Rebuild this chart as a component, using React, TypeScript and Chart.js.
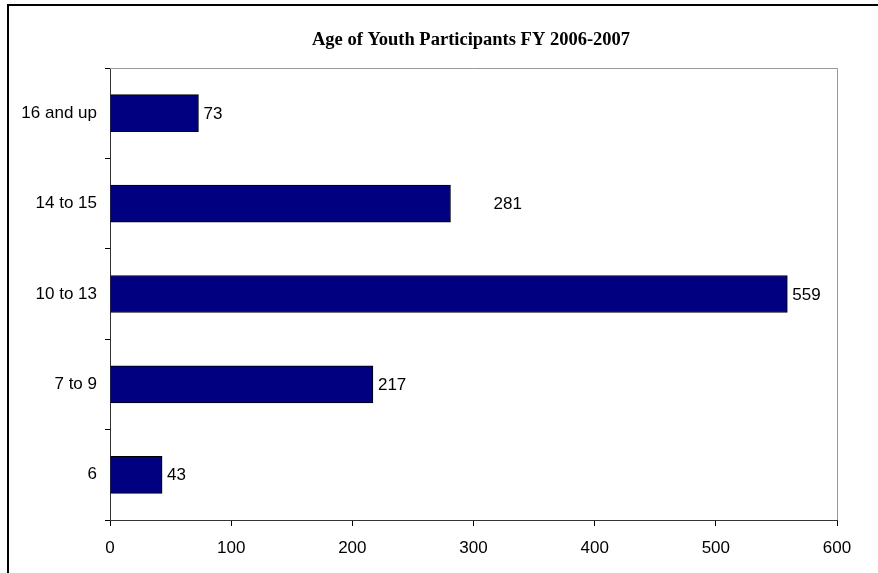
import React, { useEffect, useRef } from "react";
import { Chart, registerables } from "chart.js";

Chart.register(...registerables);

const TITLE = "Age of Youth Participants FY 2006-2007";
const categories = ["16 and up", "14 to 15", "10 to 13", "7 to 9", "6"];
const participants = [73, 281, 559, 217, 43];
const labelOffsets = [5, 43, 5, 5, 5];
const xTicks = { min: 0, max: 600, step: 100 };

const FONT = "'Liberation Sans', Arial, sans-serif";

const decorPlugin = {
  id: "decor",
  beforeDraw(chart: any) {
    const { ctx, chartArea } = chart;
    ctx.save();
    ctx.fillStyle = "#ffffff";
    ctx.fillRect(0, 0, chart.width, chart.height);
    // outer frame
    ctx.strokeStyle = "#000000";
    ctx.lineWidth = 2;
    ctx.beginPath();
    ctx.moveTo(8, chart.height + 5);
    ctx.lineTo(8, 5);
    ctx.lineTo(chart.width + 5, 5);
    ctx.stroke();
    // title
    ctx.fillStyle = "#000000";
    ctx.font = "bold 18.5px 'Liberation Serif', 'Times New Roman', serif";
    ctx.textAlign = "center";
    ctx.textBaseline = "middle";
    ctx.fillText(TITLE, 471, 40);
    ctx.restore();
  },
  afterDraw(chart: any) {
    const { ctx, chartArea } = chart;
    ctx.save();
    // plot border top/right
    ctx.strokeStyle = "#999999";
    ctx.lineWidth = 1;
    ctx.beginPath();
    ctx.moveTo(chartArea.left, chartArea.top + 0.5);
    ctx.lineTo(chartArea.right + 0.5, chartArea.top + 0.5);
    ctx.lineTo(chartArea.right + 0.5, chartArea.bottom);
    ctx.stroke();
    // value labels
    const meta = chart.getDatasetMeta(0);
    ctx.fillStyle = "#000000";
    ctx.font = "17px " + FONT;
    ctx.textAlign = "left";
    ctx.textBaseline = "middle";
    meta.data.forEach((bar: any, i: number) => {
      ctx.fillText(String(participants[i]), bar.x + labelOffsets[i], bar.y + 1);
    });
    ctx.restore();
  },
};

export default function App() {
  const ref = useRef<HTMLCanvasElement>(null);
  useEffect(() => {
    document.body.style.margin = "0";
    const chart = new Chart(ref.current!, {
      type: "bar",
      data: {
        labels: categories,
        datasets: [
          {
            data: participants,
            backgroundColor: "#000080",
            borderColor: "#000000",
            borderWidth: 1,
            barThickness: 37,
          },
        ],
      },
      options: {
        indexAxis: "y",
        responsive: false,
        animation: false,
        layout: { padding: { left: 0, right: 41, top: 68, bottom: 0 } },
        plugins: { legend: { display: false }, tooltip: { enabled: false } },
        scales: {
          x: {
            min: xTicks.min,
            max: xTicks.max,
            ticks: {
              stepSize: xTicks.step,
              color: "#000000",
              font: { family: FONT, size: 17 },
              padding: 12,
            },
            grid: { drawOnChartArea: false, drawTicks: true, tickLength: 6, color: "#000000" },
            border: { color: "#333333", width: 1 },
            afterFit: (s: any) => {
              s.height = 53;
            },
          },
          y: {
            ticks: {
              color: "#000000",
              font: { family: FONT, size: 17 },
              padding: 8,
            },
            grid: { drawOnChartArea: false, drawTicks: true, tickLength: 5, offset: true, color: "#000000" },
            border: { color: "#333333", width: 1 },
            afterFit: (s: any) => {
              s.width = 110;
            },
          },
        },
      },
      plugins: [decorPlugin],
    });
    return () => chart.destroy();
  }, []);
  return <canvas ref={ref} width={878} height={573} style={{ display: "block" }} />;
}
